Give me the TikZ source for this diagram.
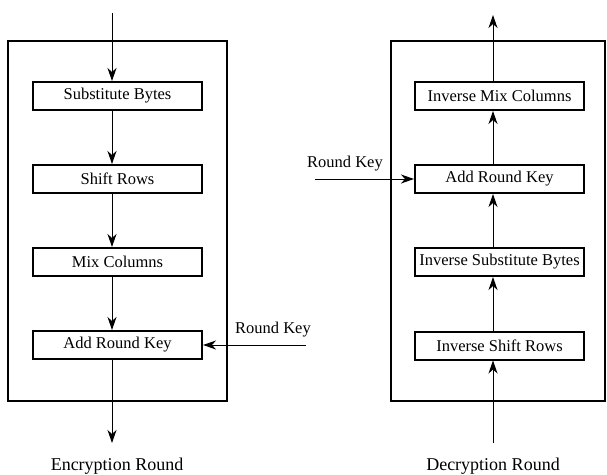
\documentclass[tikz,border=0pt]{standalone}
\usepackage{fontspec}
\setmainfont{Liberation Serif}
\usetikzlibrary{arrows.meta}
\begin{document}
\begin{tikzpicture}[x=1pt,y=-1pt,
  outer/.style={draw,line width=2.2pt},
  stage/.style={draw,line width=2pt,minimum width=169pt,minimum height=28pt,inner sep=0pt,font=\fontsize{16.5}{19}\selectfont},
  lbl/.style={font=\fontsize{16.5}{19}\selectfont,inner sep=0pt},
  roundcap/.style={font=\fontsize{18}{21}\selectfont,inner sep=0pt},
  flow/.style={line width=1pt,-{Stealth[length=13pt,width=9pt,inset=4pt]}}]
\useasboundingbox (0,0) rectangle (607,474);
% outer boxes
\draw[outer] (8,41) rectangle (227,401);
\draw[outer] (391,41) rectangle (605,401);
% encryption side
\node[stage] (sb) at (117.5,96) {Substitute Bytes};
\node[stage] (sr) at (117.5,179) {Shift Rows};
\node[stage] (mc) at (117.5,262) {Mix Columns};
\node[stage] (ark) at (117.5,345) {Add Round Key};
\coordinate (ein) at (112,13);
\coordinate (eout) at (112,443);
\node[roundcap] (ecap) at (117,466) {Encryption Round};
\coordinate (ekey) at (306,345);
\node[lbl] (ekl) at (273,330) {Round Key};
\draw[flow] (ein) -- (sb.north -| ein);
\draw[flow] (sb.south -| ein) -- (sr.north -| ein);
\draw[flow] (sr.south -| ein) -- (mc.north -| ein);
\draw[flow] (mc.south -| ein) -- (ark.north -| ein);
\draw[flow] (ark.south -| ein) -- (eout);
\draw[flow] (ekey) -- (ark.east);
% decryption side
\node[stage] (imc) at (499.5,96) {Inverse Mix Columns};
\node[stage] (dark) at (499.5,179) {Add Round Key};
\node[stage] (isb) at (499.5,262) {Inverse Substitute Bytes};
\node[stage] (isr) at (499.5,345.5) {Inverse Shift Rows};
\coordinate (din) at (493,443);
\coordinate (dout) at (493,15);
\node[roundcap] (dcap) at (493,466) {Decryption Round};
\coordinate (dkey) at (315,179);
\node[lbl] (dkl) at (345,164) {Round Key};
\draw[flow] (din) -- (isr.south -| din);
\draw[flow] (isr.north -| din) -- (isb.south -| din);
\draw[flow] (isb.north -| din) -- (dark.south -| din);
\draw[flow] (dark.north -| din) -- (imc.south -| din);
\draw[flow] (imc.north -| din) -- (dout);
\draw[flow] (dkey) -- (dark.west);
\end{tikzpicture}
\end{document}
